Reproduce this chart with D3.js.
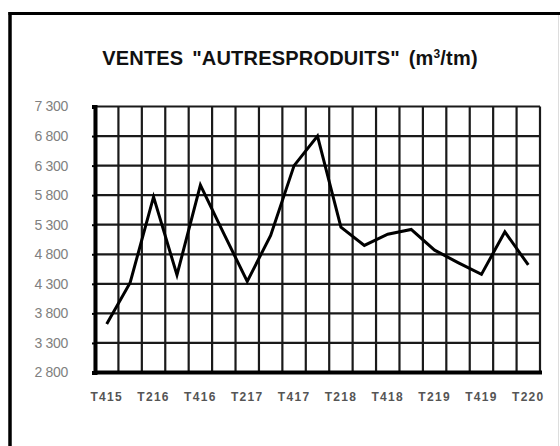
<!DOCTYPE html>
<html>
<head>
<meta charset="utf-8">
<script src="https://cdn.jsdelivr.net/npm/d3@7"></script>
<style>
  body { margin: 0; background: #fff; }
  svg { display: block; font-family: "Liberation Sans", Arial, sans-serif; }
</style>
</head>
<body>
<div id="chart"></div>
<script>
// quarters T4 2015 .. T2 2020
var quarters = ["T415", "T116", "T216", "T316", "T416", "T117", "T217", "T317", "T417",
    "T118", "T218", "T318", "T418", "T119", "T219", "T319", "T419", "T120", "T220"];
var ventes = [3620, 4320, 5770, 4450, 5970, 5150, 4340, 5120, 6300,
    6800, 5260, 4950, 5140, 5220, 4870, 4660, 4460, 5180, 4620];
var xTickLabels = ["T415", "T216", "T416", "T217", "T417", "T218", "T418", "T219", "T419", "T220"];
var yTicks = [2800, 3300, 3800, 4300, 4800, 5300, 5800, 6300, 6800, 7300];

var W = 560, H = 446;
var margin = {top: 106.5, right: 20, bottom: 73.5, left: 95};

var svg = d3.select('#chart').append('svg')
    .attr('width', W)
    .attr('height', H);

// outer frame
svg.append('line').attr('x1', 10).attr('x2', 10).attr('y1', 12).attr('y2', H)
    .attr('stroke', '#000').attr('stroke-width', 3.5);
svg.append('line').attr('x1', 8.5).attr('x2', W).attr('y1', 13.5).attr('y2', 13.5)
    .attr('stroke', '#000').attr('stroke-width', 3);
svg.append('line').attr('x1', 558.5).attr('x2', 558.5).attr('y1', 15).attr('y2', H)
    .attr('stroke', '#ddd').attr('stroke-width', 1);

// title
var title = svg.append('text')
    .attr('x', 290)
    .attr('y', 65)
    .attr('text-anchor', 'middle')
    .style('font-size', '20px')
    .style('font-weight', 'bold')
    .style('letter-spacing', '0.2px')
    .style('word-spacing', '3px')
    .style('fill', '#111');
title.append('tspan').text('VENTES "AUTRESPRODUITS" (m');
title.append('tspan').attr('dy', -7).style('font-size', '12px').text('3');
title.append('tspan').attr('dy', 7).text('/tm)');

var x = d3.scaleBand()
    .domain(quarters)
    .range([margin.left, W - margin.right])
    .paddingInner(0).paddingOuter(0);

var y = d3.scaleLinear()
    .domain([2800, 7300])
    .range([H - margin.bottom, margin.top]);

// grid
var grid = svg.append('g').attr('class', 'grid');
grid.selectAll('.h')
    .data(yTicks)
    .enter().append('line')
    .attr('x1', margin.left).attr('x2', W - margin.right)
    .attr('y1', function(d) { return y(d); })
    .attr('y2', function(d) { return y(d); })
    .attr('stroke', '#1a1a1a').attr('stroke-width', 2.2);

var edges = quarters.map(function(q) { return x(q); }).concat([x(quarters[quarters.length - 1]) + x.bandwidth()]);
grid.selectAll('.v')
    .data(edges)
    .enter().append('line')
    .attr('x1', function(d) { return d; }).attr('x2', function(d) { return d; })
    .attr('y1', y(7300)).attr('y2', y(2800))
    .attr('stroke', '#1a1a1a').attr('stroke-width', 2.2);

// y axis
var yAxis = d3.axisLeft(y)
    .tickValues(yTicks)
    .tickSize(3)
    .tickPadding(24)
    .tickFormat(function(d) { return d3.format(',')(d).replace(',', ' '); });

var gy = svg.append('g')
    .attr('transform', 'translate(' + margin.left + ',0)')
    .call(yAxis);
gy.select('.domain').attr('stroke', '#000').attr('stroke-width', 4);
gy.selectAll('.tick line').attr('stroke', '#000').attr('stroke-width', 2);
gy.selectAll('.tick text')
    .style('font-size', '14px')
    .style('letter-spacing', '-0.3px')
    .style('fill', '#808080');

// x axis
var xAxis = d3.axisBottom(x)
    .tickValues(xTickLabels)
    .tickSize(0)
    .tickPadding(20);

var gx = svg.append('g')
    .attr('transform', 'translate(0,' + (H - margin.bottom) + ')')
    .call(xAxis);
gx.select('.domain').attr('stroke', '#000').attr('stroke-width', 4)
    .attr('d', 'M' + (margin.left - 1) + ',0H' + (W - margin.right + 2));
gx.selectAll('.tick text')
    .style('font-size', '12px')
    .style('font-weight', 'bold')
    .style('letter-spacing', '1.3px')
    .style('fill', '#555');

// line
var line = d3.line()
    .x(function(d, i) { return x(quarters[i]) + x.bandwidth() / 2; })
    .y(function(d) { return y(d); });

svg.append('path')
    .datum(ventes)
    .attr('d', line)
    .attr('fill', 'none')
    .attr('stroke', '#000')
    .attr('stroke-width', 3)
    .attr('stroke-linejoin', 'miter');
</script>
</body>
</html>
